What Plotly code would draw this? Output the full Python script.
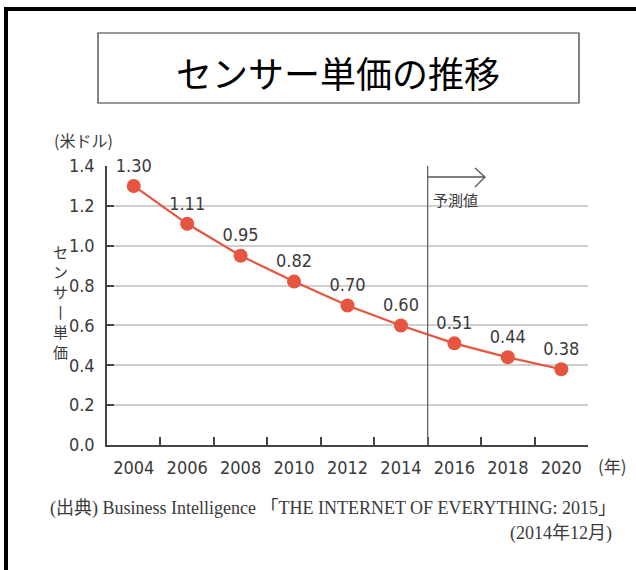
import plotly.graph_objects as go

years = ["2004", "2006", "2008", "2010", "2012", "2014", "2016", "2018", "2020"]
prices = [1.30, 1.11, 0.95, 0.82, 0.70, 0.60, 0.51, 0.44, 0.38]
labels = ["1.30", "1.11", "0.95", "0.82", "0.70", "0.60", "0.51", "0.44", "0.38"]
y_ticks = [0.0, 0.2, 0.4, 0.6, 0.8, 1.0, 1.2, 1.4]
y_ticklabels = ["0.0", "0.2", "0.4", "0.6", "0.8", "1.0", "1.2", "1.4"]
y_title_chars = ["セ", "ン", "サ", "丨", "単", "価"]

W, H = 636, 570
L, R, T, B = 107, 588, 166, 445

RED = "#e5553f"
TXT = "#3a3a3a"
SANS = "DejaVu Sans Condensed, Roboto, Noto Sans CJK JP, sans-serif"
CJK = "Noto Sans CJK JP"
SERIF = "Liberation Serif, Noto Sans CJK JP"

fig = go.Figure()
fig.add_trace(go.Scatter(
    x=years, y=prices, mode="lines+markers+text",
    text=labels, textposition="top center",
    textfont=dict(size=18, color=TXT, family=SANS),
    line=dict(color=RED, width=2.2),
    marker=dict(color=RED, size=14),
    cliponaxis=False, hoverinfo="skip", showlegend=False,
))

fig.update_layout(
    width=W, height=H,
    margin=dict(l=L, r=W - R, t=T, b=H - B, pad=0),
    paper_bgcolor="white", plot_bgcolor="white",
    font=dict(family=SANS, color=TXT),
    xaxis=dict(
        type="category", range=[-0.5, 8.5], tickson="boundaries",
        ticks="inside", ticklen=8, tickwidth=1.5, tickcolor="#444",
        showline=True, linecolor="#444", linewidth=1.5,
        showgrid=False, tickfont=dict(size=18, color=TXT, family=SANS),
        ticklabelstandoff=6, fixedrange=True,
    ),
    yaxis=dict(
        range=[0, 1.4], tickvals=y_ticks, ticktext=y_ticklabels,
        ticks="inside", ticklen=7, tickwidth=1.5, tickcolor="#444",
        showline=True, linecolor="#444", linewidth=1.5,
        showgrid=True, gridcolor="#d0d0d0", gridwidth=1.5,
        zeroline=False, tickfont=dict(size=18, color=TXT, family=SANS),
        ticklabelstandoff=7, fixedrange=True,
    ),
)

def px_x(p):
    return (p - L) / (R - L)

def px_y(p):
    return (B - p) / (B - T)

shapes = [
    dict(type="rect", xref="paper", yref="paper",
         x0=px_x(6), x1=px_x(700), y0=px_y(9), y1=px_y(700),
         line=dict(color="black", width=4)),
    dict(type="rect", xref="paper", yref="paper",
         x0=px_x(98), x1=px_x(579), y0=px_y(33), y1=px_y(103),
         line=dict(color="#333", width=1.2), fillcolor="white"),
    dict(type="line", xref="x", yref="y", x0=5.5, x1=5.5, y0=0, y1=1.4,
         line=dict(color="#666", width=1.3)),
    dict(type="line", xref="paper", yref="paper",
         x0=px_x(428), x1=px_x(485), y0=px_y(177), y1=px_y(177),
         line=dict(color="#555", width=1.3)),
    dict(type="path", xref="paper", yref="paper",
         path=f"M {px_x(475)} {px_y(168)} L {px_x(485)} {px_y(177)} L {px_x(475)} {px_y(187)}",
         line=dict(color="#555", width=1.3)),
]
fig.update_layout(shapes=shapes)

def note(text, x, y, size, family, xanchor="center", color=TXT):
    return dict(text=text, xref="paper", yref="paper", x=px_x(x), y=px_y(y),
                xanchor=xanchor, yanchor="middle", showarrow=False,
                font=dict(size=size, color=color, family=family))

ann = [
    note("センサー単価の推移", 338, 72, 36, CJK, color="black"),
    note("(米ドル)", 52, 140, 16, CJK, xanchor="left"),
    note("予測値", 431, 199, 15, CJK, xanchor="left"),
    note("(年)", 596, 465, 17, CJK, xanchor="left"),
    note("(出典) Business Intelligence 「THE INTERNET OF EVERYTHING: 2015」", 618, 508, 18, SERIF, xanchor="right"),
    note("(2014年12月)", 614, 533, 18, SERIF, xanchor="right"),
]
for i, ch in enumerate(y_title_chars):
    ann.append(note(ch, 60, 251 + 20 * i, 15, CJK))
fig.update_layout(annotations=ann)

fig.write_html("out.html", config={"displayModeBar": False},
               post_script="document.body.style.margin='0';")
